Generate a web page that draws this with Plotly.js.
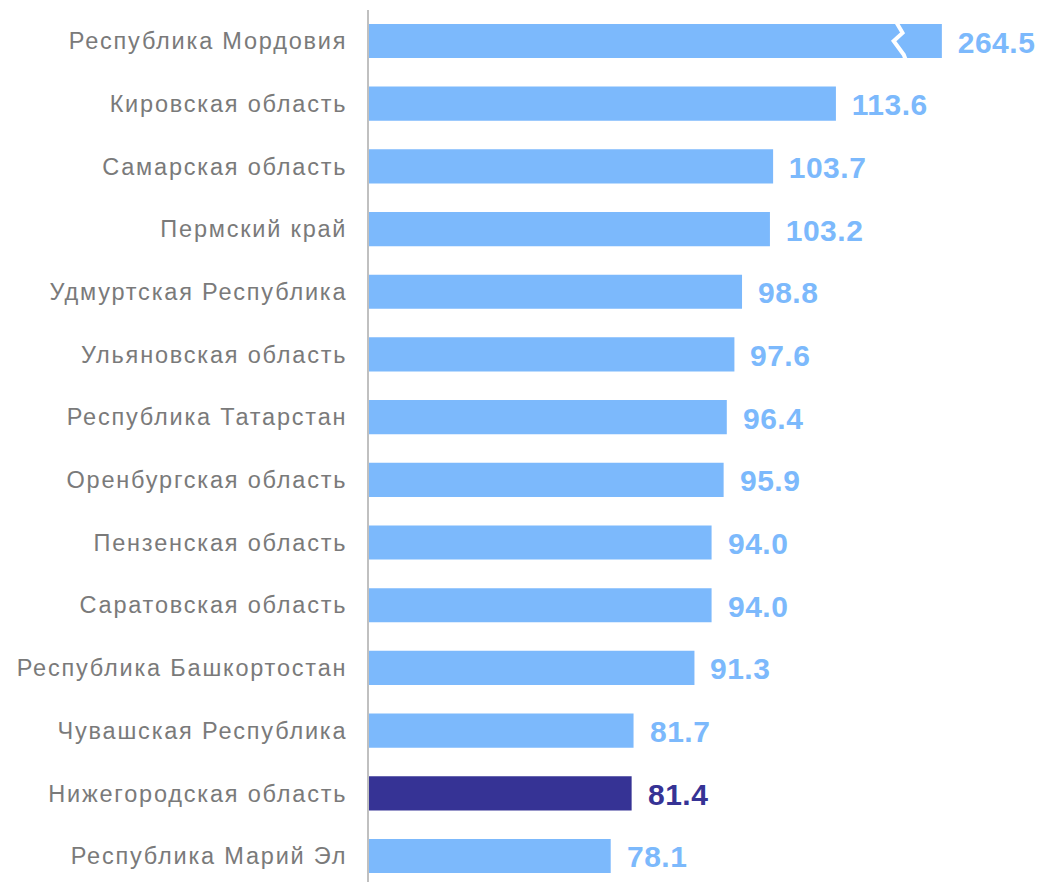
<!DOCTYPE html>
<html><head><meta charset="utf-8">
<script src="https://cdn.plot.ly/plotly-3.0.1.min.js"></script>
<style>html,body{margin:0;padding:0;background:#fff}#chart{width:1044px;height:882px}
#chart .ytick text{letter-spacing:1.8px}
#chart .annotation-text{letter-spacing:0.5px}</style>
</head><body><div id="chart"></div>
<script>
const regions = ["Республика Мордовия","Кировская область","Самарская область","Пермский край","Удмуртская Республика","Ульяновская область","Республика Татарстан","Оренбургская область","Пензенская область","Саратовская область","Республика Башкортостан","Чувашская Республика","Нижегородская область","Республика Марий Эл"];
const values = [264.5,113.6,103.7,103.2,98.8,97.6,96.4,95.9,94.0,94.0,91.3,81.7,81.4,78.1];
const highlight = "Нижегородская область";
const breakCap = 130.3; // bars longer than this are drawn broken

const light = "#7cb9fc", dark = "#363395";
const shown = values.map(v => Math.min(v, breakCap));
const colors = regions.map(r => r === highlight ? dark : light);
const idx = regions.map((r,i)=>i);

const annotations = values.map((v,i)=>({
  x: shown[i], y: i, xref:'x', yref:'y', text: v.toFixed(1),
  showarrow:false, xanchor:'left', yanchor:'middle', xshift:15, yshift:-1,
  font:{family:'Liberation Sans, Arial, sans-serif', size:30, color:colors[i], weight:'bold'}
}));

const shapes = [];
values.forEach((v,i)=>{
  if (v > breakCap) {
    const bx = breakCap - 7.3;
    shapes.push({type:'path', xref:'x', yref:'y', layer:'above',
      path:`M ${bx} ${i-0.32} L ${bx+1.1} ${i-0.13} L ${bx-0.3} ${i} L ${bx+1.3} ${i+0.22} L ${bx+1.6} ${i+0.3}`,
      line:{color:'#ffffff', width:4}});
  }
});

const trace = {type:'bar', orientation:'h', y: idx, x: shown.map(v=>v-40), base:40,
  marker:{color:colors}, width:0.545, hoverinfo:'skip'};

const layout = {
  width:1044, height:882, margin:{l:369,r:0,t:10,b:0},
  paper_bgcolor:'#fff', plot_bgcolor:'#fff', showlegend:false,
  xaxis:{range:[40,146.4], visible:false, fixedrange:true},
  yaxis:{range:[13.415,-0.4945], tickmode:'array', tickvals:idx, ticktext:regions,
    showline:true, linecolor:'#c0c0c0', linewidth:2, showgrid:false, zeroline:false,
    ticks:'', ticklabelstandoff:15,
    tickfont:{family:'Liberation Sans, Arial, sans-serif', size:23.5, color:'#7a7a7a'}},
  annotations, shapes
};
Plotly.newPlot('chart',[trace],layout,{staticPlot:true});
</script></body></html>
